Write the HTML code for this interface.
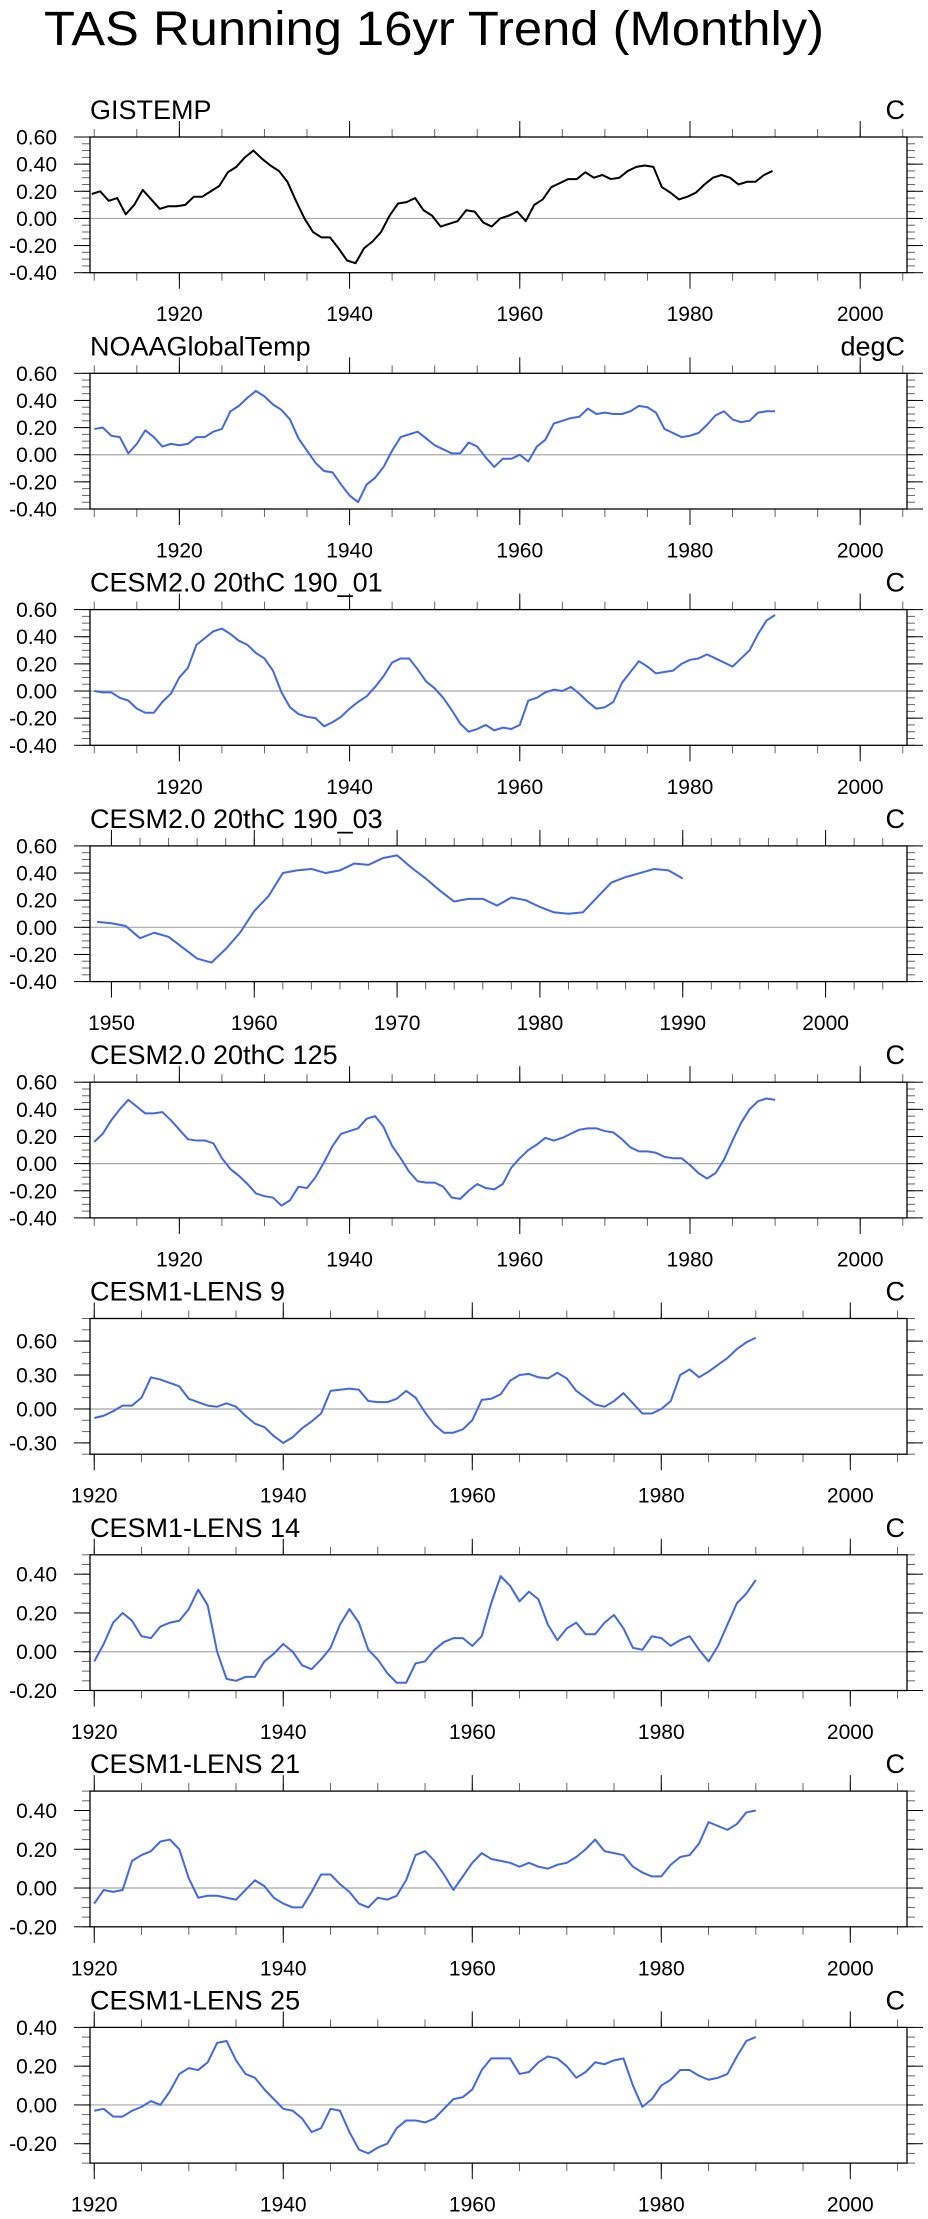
<!DOCTYPE html>
<html><head><meta charset="utf-8"><style>
html,body{margin:0;padding:0;background:#fff;}
svg{display:block;font-family:"Liberation Sans",Arial,sans-serif;}
</style></head><body>
<svg id="chart" width="928" height="2219" viewBox="0 0 928 2219" xmlns="http://www.w3.org/2000/svg">
<text x="44" y="45" font-size="48" textLength="780" lengthAdjust="spacingAndGlyphs">TAS Running 16yr Trend (Monthly)</text>
</svg>
<script>
const titles = ["GISTEMP","NOAAGlobalTemp","CESM2.0 20thC 190_01","CESM2.0 20thC 190_03","CESM2.0 20thC 125","CESM1-LENS 9","CESM1-LENS 14","CESM1-LENS 21","CESM1-LENS 25"];
const units = ["C","degC","C","C","C","C","C","C","C"];
const startYears = [1909.7,1910,1910,1949,1910,1920,1920,1920,1920];
const gistemp = [0.18,0.20,0.13,0.15,0.03,0.10,0.21,0.14,0.07,0.09,0.09,0.10,0.16,0.16,0.20,0.24,0.34,0.38,0.45,0.50,0.44,0.39,0.35,0.27,0.13,0.00,-0.10,-0.14,-0.14,-0.22,-0.31,-0.33,-0.22,-0.17,-0.10,0.02,0.11,0.12,0.15,0.06,0.02,-0.06,-0.04,-0.02,0.06,0.05,-0.03,-0.06,0.00,0.02,0.05,-0.02,0.10,0.14,0.23,0.26,0.29,0.29,0.34,0.30,0.32,0.29,0.30,0.35,0.38,0.39,0.38,0.23,0.19,0.14,0.16,0.19,0.25,0.30,0.32,0.30,0.25,0.27,0.27,0.32,0.35];
const noaa = [0.19,0.20,0.14,0.13,0.01,0.08,0.18,0.13,0.06,0.08,0.07,0.08,0.13,0.13,0.17,0.19,0.32,0.36,0.42,0.47,0.43,0.37,0.33,0.26,0.12,0.03,-0.06,-0.12,-0.13,-0.22,-0.30,-0.35,-0.22,-0.17,-0.09,0.03,0.13,0.15,0.17,0.12,0.07,0.04,0.01,0.01,0.09,0.06,-0.02,-0.09,-0.03,-0.03,0.00,-0.05,0.06,0.11,0.23,0.25,0.27,0.28,0.34,0.30,0.31,0.30,0.30,0.32,0.36,0.35,0.31,0.19,0.16,0.13,0.14,0.16,0.22,0.29,0.32,0.26,0.24,0.25,0.31,0.32,0.32];
const cesm2_190_01 = [0.00,-0.01,-0.01,-0.05,-0.07,-0.13,-0.16,-0.16,-0.08,-0.02,0.10,0.17,0.34,0.39,0.44,0.46,0.42,0.37,0.34,0.28,0.24,0.15,-0.01,-0.12,-0.17,-0.19,-0.20,-0.26,-0.23,-0.19,-0.13,-0.08,-0.04,0.03,0.11,0.21,0.24,0.24,0.16,0.07,0.02,-0.05,-0.14,-0.24,-0.30,-0.28,-0.25,-0.29,-0.27,-0.28,-0.25,-0.07,-0.05,-0.01,0.01,0.00,0.03,-0.02,-0.08,-0.13,-0.12,-0.08,0.06,0.14,0.22,0.18,0.13,0.14,0.15,0.20,0.23,0.24,0.27,0.24,0.21,0.18,0.24,0.30,0.42,0.52,0.56];
const cesm2_190_03 = [0.04,0.03,0.01,-0.08,-0.04,-0.07,-0.15,-0.23,-0.26,-0.16,-0.04,0.12,0.23,0.40,0.42,0.43,0.40,0.42,0.47,0.46,0.51,0.53,0.44,0.36,0.27,0.19,0.21,0.21,0.16,0.22,0.20,0.15,0.11,0.10,0.11,0.22,0.33,0.37,0.40,0.43,0.42,0.36];
const cesm2_125 = [0.16,0.22,0.32,0.40,0.47,0.42,0.37,0.37,0.38,0.32,0.25,0.18,0.17,0.17,0.15,0.04,-0.04,-0.09,-0.15,-0.22,-0.24,-0.25,-0.31,-0.27,-0.17,-0.18,-0.10,0.01,0.13,0.22,0.24,0.26,0.33,0.35,0.27,0.13,0.04,-0.06,-0.13,-0.14,-0.14,-0.17,-0.25,-0.26,-0.20,-0.15,-0.18,-0.19,-0.15,-0.03,0.04,0.10,0.14,0.19,0.17,0.19,0.22,0.25,0.26,0.26,0.24,0.23,0.18,0.12,0.09,0.09,0.08,0.05,0.04,0.04,-0.01,-0.07,-0.11,-0.07,0.03,0.17,0.30,0.40,0.46,0.48,0.47];
const lens9 = [-0.08,-0.06,-0.02,0.03,0.03,0.10,0.28,0.26,0.23,0.20,0.09,0.06,0.03,0.02,0.05,0.02,-0.06,-0.13,-0.16,-0.24,-0.30,-0.25,-0.17,-0.11,-0.04,0.16,0.17,0.18,0.17,0.07,0.06,0.06,0.09,0.16,0.10,-0.03,-0.14,-0.21,-0.21,-0.18,-0.10,0.08,0.09,0.13,0.25,0.30,0.31,0.28,0.27,0.32,0.27,0.16,0.10,0.04,0.02,0.07,0.14,0.05,-0.04,-0.04,0.00,0.07,0.30,0.35,0.28,0.33,0.39,0.45,0.53,0.59,0.63];
const lens14 = [-0.05,0.04,0.15,0.20,0.16,0.08,0.07,0.13,0.15,0.16,0.22,0.32,0.24,0.00,-0.14,-0.15,-0.13,-0.13,-0.05,-0.01,0.04,0.00,-0.07,-0.09,-0.04,0.02,0.14,0.22,0.15,0.01,-0.04,-0.11,-0.16,-0.16,-0.06,-0.05,0.01,0.05,0.07,0.07,0.03,0.08,0.25,0.39,0.34,0.26,0.31,0.27,0.14,0.06,0.12,0.15,0.09,0.09,0.15,0.19,0.12,0.02,0.01,0.08,0.07,0.03,0.06,0.08,0.01,-0.05,0.03,0.14,0.25,0.30,0.37];
const lens21 = [-0.08,-0.01,-0.02,-0.01,0.14,0.17,0.19,0.24,0.25,0.20,0.05,-0.05,-0.04,-0.04,-0.05,-0.06,-0.01,0.04,0.01,-0.05,-0.08,-0.10,-0.10,-0.02,0.07,0.07,0.02,-0.02,-0.08,-0.10,-0.05,-0.06,-0.04,0.04,0.17,0.19,0.14,0.07,-0.01,0.06,0.13,0.18,0.15,0.14,0.13,0.11,0.13,0.11,0.10,0.12,0.13,0.16,0.20,0.25,0.19,0.18,0.17,0.11,0.08,0.06,0.06,0.12,0.16,0.17,0.23,0.34,0.32,0.30,0.33,0.39,0.40];
const lens25 = [-0.03,-0.02,-0.06,-0.06,-0.03,-0.01,0.02,0.00,0.07,0.16,0.19,0.18,0.22,0.32,0.33,0.23,0.16,0.14,0.08,0.03,-0.02,-0.03,-0.07,-0.14,-0.12,-0.02,-0.03,-0.14,-0.23,-0.25,-0.22,-0.20,-0.12,-0.08,-0.08,-0.09,-0.07,-0.02,0.03,0.04,0.08,0.18,0.24,0.24,0.24,0.16,0.17,0.22,0.25,0.24,0.20,0.14,0.17,0.22,0.21,0.23,0.24,0.10,-0.01,0.03,0.10,0.13,0.18,0.18,0.15,0.13,0.14,0.16,0.25,0.33,0.35];
const series = [gistemp,noaa,cesm2_190_01,cesm2_190_03,cesm2_125,lens9,lens14,lens21,lens25];
const yMins = [-0.4,-0.4,-0.4,-0.4,-0.4,-0.4,-0.2,-0.2,-0.3];
const yMaxs = [0.6,0.6,0.6,0.6,0.6,0.8,0.5,0.5,0.4];
const yMajorTicks = [[-0.4,-0.2,0,0.2,0.4,0.6],[-0.4,-0.2,0,0.2,0.4,0.6],[-0.4,-0.2,0,0.2,0.4,0.6],[-0.4,-0.2,0,0.2,0.4,0.6],[-0.4,-0.2,0,0.2,0.4,0.6],[-0.3,0,0.3,0.6],[-0.2,0,0.2,0.4],[-0.2,0,0.2,0.4],[-0.2,0,0.2,0.4]];
const yMinorSteps = [0.05,0.05,0.05,0.05,0.05,0.1,0.05,0.05,0.05];
const xMins = [1909.5,1909.5,1909.5,1948.5,1909.5,1919.55,1919.55,1919.55,1919.55];
const xMaxs = [2005.5,2005.5,2005.5,2005.7,2005.5,2006,2006,2006,2006];
const xMajorTicks = [[1920,1940,1960,1980,2000],[1920,1940,1960,1980,2000],[1920,1940,1960,1980,2000],[1950,1960,1970,1980,1990,2000],[1920,1940,1960,1980,2000],[1920,1940,1960,1980,2000],[1920,1940,1960,1980,2000],[1920,1940,1960,1980,2000],[1920,1940,1960,1980,2000]];
const xMinorSteps = [5,5,5,2,5,5,5,5,5];
const colors = ["#000000","#4169e1","#4169e1","#4169e1","#4169e1","#4169e1","#4169e1","#4169e1","#4169e1"];

const NS = "http://www.w3.org/2000/svg";
const svg = document.getElementById('chart');
const L = 90, R = 907, TOP0 = 137, GAP = 236.3, H = 135.7;
function mk(tag, parent, attrs){ const e = document.createElementNS(NS, tag); for (const k in attrs) e.setAttribute(k, attrs[k]); parent.appendChild(e); return e; }
function fmt(v){ return v.toFixed(2).replace("-0.00","0.00"); }

for (let p = 0; p < 9; p++) {
  const top = TOP0 + p * GAP, bot = top + H;
  const g = mk('g', svg, {});
  
  
  const xs = v => L + (v - xMins[p]) / (xMaxs[p] - xMins[p]) * (R - L);
  const ys = v => bot - (v - yMins[p]) / (yMaxs[p] - yMins[p]) * H;

  const t = mk('text', g, {x: L, y: top - 18, 'font-size': 27});
  
  
  t.textContent = titles[p];
  const u = mk('text', g, {x: 905, y: top - 18, 'font-size': 27, 'text-anchor': 'end'});
  
  
  u.textContent = units[p];

  const z = mk('line', g, {x1: L, x2: R, y1: ys(0), y2: ys(0), stroke: '#a8a8a8', 'stroke-width': 1.2});
  
  

  const ticks = mk('g', g, {stroke: '#000', 'stroke-width': 1});
  
  
  const ys0 = Math.ceil(yMins[p] / yMinorSteps[p] - 1e-6);
  for (let k = ys0; k * yMinorSteps[p] <= yMaxs[p] + 1e-6; k++) {
    const y = ys(k * yMinorSteps[p]);
    mk('line', ticks, {x1: L - 8, x2: L, y1: y, y2: y, stroke: '#666'});
    mk('line', ticks, {x1: R, x2: R + 8, y1: y, y2: y, stroke: '#666'});
  }
  yMajorTicks[p].forEach(v => {
    const y = ys(v);
    mk('line', ticks, {x1: L - 16, x2: L, y1: y, y2: y});
    mk('line', ticks, {x1: R, x2: R + 16, y1: y, y2: y});
    const lb = mk('text', g, {x: 57, y: y + 7.5, 'font-size': 21, 'text-anchor': 'end'});
    
    
    lb.textContent = fmt(v);
  });
  const xs0 = Math.ceil(xMins[p] / xMinorSteps[p]);
  for (let k = xs0; k * xMinorSteps[p] <= xMaxs[p]; k++) {
    const x = xs(k * xMinorSteps[p]);
    mk('line', ticks, {x1: x, x2: x, y1: top - 8, y2: top, stroke: '#666'});
    mk('line', ticks, {x1: x, x2: x, y1: bot, y2: bot + 8, stroke: '#666'});
  }
  xMajorTicks[p].forEach(v => {
    const x = xs(v);
    mk('line', ticks, {x1: x, x2: x, y1: top - 16, y2: top});
    mk('line', ticks, {x1: x, x2: x, y1: bot, y2: bot + 16});
    const lb = mk('text', g, {x: x, y: bot + 48.5, 'font-size': 21, 'text-anchor': 'middle'});
    
    
    lb.textContent = String(v);
  });

  const d = series[p].map((v, i) => (i ? 'L' : 'M') + xs(startYears[p] + i).toFixed(2) + ',' + ys(v).toFixed(2)).join(' ');
  const path = mk('path', g, {d: d, fill: 'none', stroke: colors[p], 'stroke-width': 2, 'stroke-linejoin': 'round'});
  
  

  const box = mk('rect', g, {x: L, y: top, width: R - L, height: H, fill: 'none', stroke: '#000', 'stroke-width': 1.3});
  
  
}
</script>
</body></html>
